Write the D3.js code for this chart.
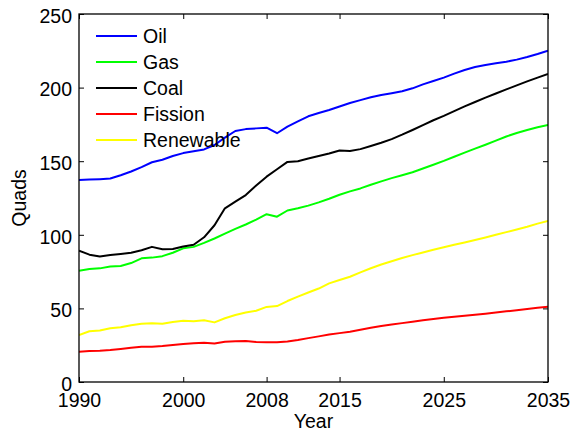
<!DOCTYPE html>
<html>
<head>
<meta charset="utf-8">
<script src="https://cdn.jsdelivr.net/npm/d3@7"></script>
<style>
  html, body { margin: 0; padding: 0; background: #fff; }
  svg { display: block; font-family: "Liberation Sans", Arial, sans-serif; }
</style>
</head>
<body>
<script>
// Annual energy consumption by fuel, 1990–2035 (quadrillion BTU)
const years = d3.range(1990, 2036);

const oil = [137.3, 137.5, 137.8, 138.2, 140.5, 143, 146, 149.3, 151, 153.5,
  155.5, 156.8, 158, 161, 166, 170.5, 171.8, 172.3, 172.8, 169,
  173.5, 177, 180.5, 182.7, 184.8, 187.2, 189.5, 191.5, 193.4, 195,
  196.2, 197.5, 199.5, 202.2, 204.5, 206.8, 209.5, 212, 214, 215.4,
  216.5, 217.6, 219, 220.8, 222.8, 225];

const gas = [75.6, 76.8, 77.2, 78.5, 78.8, 80.8, 84, 84.5, 85.5, 87.8,
  90.8, 91.8, 94.5, 97.5, 100.8, 104, 107, 110.3, 114, 112.3,
  116.5, 118, 119.8, 122, 124.5, 127.2, 129.5, 131.5, 134, 136.3,
  138.5, 140.5, 142.5, 145, 147.6, 150.2, 153, 155.8, 158.5, 161.2,
  164, 166.8, 169.2, 171.2, 173, 174.6];

const coal = [89.2, 86.5, 85.3, 86.3, 87, 87.8, 89.5, 91.8, 90.2, 90.4,
  92, 93.2, 98.3, 106.5, 118, 122.5, 127, 133.5, 139.5, 144.5,
  149.5, 150, 151.8, 153.5, 155.2, 157.3, 156.9, 158.2, 160.3, 162.5,
  165, 168, 171.2, 174.5, 177.8, 180.8, 184, 187.2, 190.2, 193.2,
  196, 198.8, 201.5, 204.2, 206.8, 209.2];

const fission = [20.6, 21, 21.3, 21.8, 22.5, 23.2, 24, 24, 24.5, 25.2,
  25.8, 26.3, 26.7, 26.2, 27.3, 27.6, 27.9, 27.1, 27, 27,
  27.5, 28.5, 29.8, 31, 32.2, 33.2, 34.2, 35.5, 36.8, 38,
  39, 40, 41, 42, 42.8, 43.6, 44.3, 45, 45.7, 46.4,
  47.2, 48, 48.8, 49.6, 50.4, 51.2];

const renewable = [31.9, 34.5, 35, 36.5, 37.2, 38.6, 39.5, 39.9, 39.6, 40.8,
  41.6, 41.3, 42, 40.5, 43.3, 45.5, 47.2, 48.4, 51, 51.6,
  55, 58, 60.8, 63.5, 67, 69.3, 71.5, 74.5, 77.3, 79.8,
  82, 84.2, 86.2, 88, 89.8, 91.5, 93.2, 94.8, 96.5, 98.2,
  100, 101.8, 103.6, 105.5, 107.6, 109.4];

const seriesNames = ["Oil", "Gas", "Coal", "Fission", "Renewable"];
const seriesValues = [oil, gas, coal, fission, renewable];
const seriesColors = ["#0000ff", "#00ff00", "#000000", "#ff0000", "#ffff00"];

const xTicks = [1990, 2000, 2008, 2015, 2025, 2035];
const yTicks = [0, 50, 100, 150, 200, 250];

(function drawChart() {
  const W = 572, H = 432;
  const m = { left: 79, right: 548, top: 14, bottom: 382 };
  const fontSize = 19.5;
  const fontFamily = "Liberation Sans, Arial, sans-serif";

  const x = d3.scaleLinear().domain([1990, 2035]).range([m.left, m.right]);
  const y = d3.scaleLinear().domain([0, 250]).range([m.bottom, m.top]);

  const svg = d3.select("body").append("svg")
    .attr("width", W).attr("height", H);

  svg.append("defs").append("clipPath").attr("id", "plot-clip")
    .append("rect")
    .attr("x", m.left).attr("y", m.top)
    .attr("width", m.right - m.left).attr("height", m.bottom - m.top);

  // Data lines
  const line = d3.line()
    .x((d, i) => x(years[i]))
    .y(d => y(d));

  const plot = svg.append("g").attr("clip-path", "url(#plot-clip)");
  seriesValues.forEach((vals, k) => {
    plot.append("path")
      .datum(vals)
      .attr("fill", "none")
      .attr("stroke", seriesColors[k])
      .attr("stroke-width", 2)
      .attr("stroke-linejoin", "round")
      .attr("d", line);
  });

  // Axes with inward ticks on all four sides
  const tickLen = 5;
  const axisStyle = g => {
    g.select(".domain").remove();
    g.selectAll(".tick line").attr("stroke", "#000").attr("stroke-width", 1);
  };
  const labelStyle = g => g.selectAll(".tick text")
    .attr("font-size", fontSize).attr("fill", "#000")
    .attr("font-family", fontFamily);

  svg.append("g")
    .attr("transform", `translate(0,${m.bottom})`)
    .call(d3.axisBottom(x).tickValues(xTicks).tickFormat(d3.format("d"))
      .tickSize(-tickLen).tickPadding(11))
    .call(axisStyle)
    .call(labelStyle);

  svg.append("g")
    .attr("transform", `translate(0,${m.top})`)
    .call(d3.axisTop(x).tickValues(xTicks).tickFormat("").tickSize(-tickLen))
    .call(axisStyle);

  svg.append("g")
    .attr("transform", `translate(${m.left},0)`)
    .call(d3.axisLeft(y).tickValues(yTicks).tickSize(-tickLen).tickPadding(7))
    .call(axisStyle)
    .call(labelStyle)
    .call(g => g.selectAll(".tick text").attr("dy", "0.42em"));

  svg.append("g")
    .attr("transform", `translate(${m.right},0)`)
    .call(d3.axisRight(y).tickValues(yTicks).tickFormat("").tickSize(-tickLen))
    .call(axisStyle);

  // Plot frame
  svg.append("rect")
    .attr("x", m.left).attr("y", m.top)
    .attr("width", m.right - m.left).attr("height", m.bottom - m.top)
    .attr("fill", "none").attr("stroke", "#000").attr("stroke-width", 1.3);

  // Axis titles
  svg.append("text")
    .attr("x", (m.left + m.right) / 2).attr("y", 428)
    .attr("text-anchor", "middle")
    .attr("font-size", fontSize)
    .text("Year");

  svg.append("text")
    .attr("transform", `translate(26,${(m.top + m.bottom) / 2}) rotate(-90)`)
    .attr("text-anchor", "middle")
    .attr("font-size", fontSize)
    .text("Quads");

  // Legend
  const legend = svg.append("g");
  seriesNames.forEach((name, k) => {
    const ly = 36 + k * 26;
    legend.append("line")
      .attr("x1", 96).attr("x2", 137)
      .attr("y1", ly).attr("y2", ly)
      .attr("stroke", seriesColors[k]).attr("stroke-width", 2);
    legend.append("text")
      .attr("x", 143).attr("y", ly + 7)
      .attr("font-size", fontSize)
      .text(name);
  });
})();
</script>
</body>
</html>
